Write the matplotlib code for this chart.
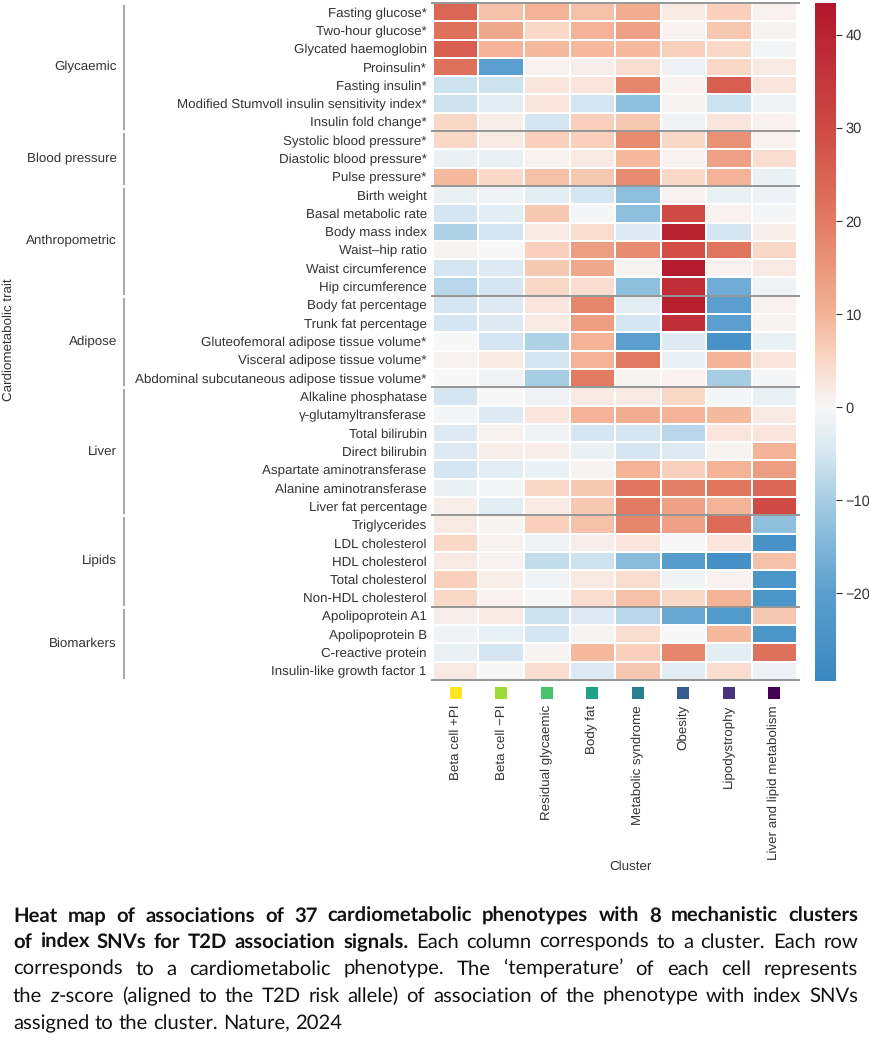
import numpy as np
import matplotlib
matplotlib.use("Agg")
import matplotlib.pyplot as plt
from matplotlib.colors import LinearSegmentedColormap
from matplotlib.transforms import blended_transform_factory

plt.rcParams['font.family'] = ['Liberation Sans', 'DejaVu Sans']
plt.rcParams['text.hinting'] = 'no_hinting'

# Rows (traits) and their groups
traits = [
    "Fasting glucose*", "Two-hour glucose*", "Glycated haemoglobin", "Proinsulin*",
    "Fasting insulin*", "Modified Stumvoll insulin sensitivity index*", "Insulin fold change*",
    "Systolic blood pressure*", "Diastolic blood pressure*", "Pulse pressure*",
    "Birth weight", "Basal metabolic rate", "Body mass index", "Waist\u2013hip ratio",
    "Waist circumference", "Hip circumference",
    "Body fat percentage", "Trunk fat percentage", "Gluteofemoral adipose tissue volume*",
    "Visceral adipose tissue volume*", "Abdominal subcutaneous adipose tissue volume*",
    "Alkaline phosphatase", "\u03b3-glutamyltransferase", "Total bilirubin", "Direct bilirubin",
    "Aspartate aminotransferase", "Alanine aminotransferase", "Liver fat percentage",
    "Triglycerides", "LDL cholesterol", "HDL cholesterol", "Total cholesterol",
    "Non-HDL cholesterol",
    "Apolipoprotein A1", "Apolipoprotein B", "C-reactive protein", "Insulin-like growth factor 1",
]
group_names = ["Glycaemic", "Blood pressure", "Anthropometric", "Adipose", "Liver", "Lipids", "Biomarkers"]
group_sizes = [7, 3, 6, 5, 7, 5, 4]

clusters = ["Beta cell +PI", "Beta cell \u2212PI", "Residual glycaemic", "Body fat",
            "Metabolic syndrome", "Obesity", "Lipodystrophy", "Liver and lipid metabolism"]

# z-scores per cluster (top row to bottom row)
beta_pos = [24, 22, 26, 22, -6, -6, 5, 5, -2, 9, -2, -5, -9, 0.5, -5, -8,
            -5, -5, 0, 1, 0, -5, -0.5, -4, -4, -5, -2, 1.5, 2, 5, 2, 6, 5, 1.5, -1, -2, 2]
beta_neg = [8, 12, 10, -20, -6, -3, 1.5, 2, -2, 5, -1, -3, -5, 0, -4, -5,
            -4, -4, -5, 2, -1, 0, -4, 1, 1.5, -3, -0.5, -3, 0.5, 1, 1, 1.5, 1, 2, -2.5, -5, 0]
residual = [10, 5, 9, 1, 3, 3, -5, 6, 1, 8, -3, 7, 2, 6, 7, 5,
            3, 2, -9, -5, -10, -1, 3, -1, 1.5, -2, 5, 2, 6, -1, -7, -1, 0, -6, -5, 0.5, 4]
body_fat = [8, 10, 9, 1.5, 3, -5, 6, 6, 2, 7, -5, -0.5, 4, 14, 12, 4,
            18, 14, 10, 10, 20, 2, 10, -5, -2, 0.5, 7, 7, 8, 1.5, -6, 2, 4, -4, 0.5, 9, -4]
met_syn = [11, 13, 9, 4, 18, -13, 7, 17, 9, 17, -13, -13, -4, 17, 0.5, -13,
           -3, -5, -20, 20, 0.5, 2, 11, -5, -5, 10, 21, 20, 18, 3, -14, 4, 8, -8, 4, 6, 7]
obesity = [2, 1, 6, -1.5, 1, 0.5, -1, 5, 1, 5, 1, 30, 40, 29, 42, 37,
           41, 37, -4, -2, 1, 5, 10, -8, -4, 6, 19, 13, 13, 0, -21, -1, 5, -18, 0, 18, -3]
lipodys = [6, 7, 5, 5, 26, -6, 3, 16, 13, 10, -2, 1, -5, 21, 1, -17,
           -20, -20, -25, 10, -10, -0.5, 9, 3, 0.5, 10, 21, 10, 23, 3, -26, 1, 10, -22, 9, -3, 4]
liver_lipid = [1, 0.5, -0.5, 2, 3, -1, 1, 1, 4, -2, -1.5, -0.5, 1.5, 5, 2, -1,
               1, 0.5, -2, 3, -0.5, -2, 2, 3, 10, 14, 24, 30, -13, -25, 8, -24, -24, 7, -24, 22, -1.5]

z = np.column_stack([beta_pos, beta_neg, residual, body_fat, met_syn, obesity, lipodys, liver_lipid])

vmin, vmax = -29.4, 43.4
nodes = [(-29.4, '#3a88c2'), (-20, '#5a9fcf'), (-10, '#a6cde4'), (-5, '#d6e7f2'),
         (0, '#f7f7f7'), (5, '#fad7c6'), (10, '#f4b396'), (20, '#e27b62'),
         (30, '#cf4a44'), (43.4, '#b2182b')]
cmap = LinearSegmentedColormap.from_list('zs', [((v - vmin) / (vmax - vmin), c) for v, c in nodes])

W, H = 870, 1050
fig = plt.figure(figsize=(W / 100, H / 100), dpi=100)


def box(x0, y0, x1, y1):
    return [x0 / W, 1 - y1 / H, (x1 - x0) / W, (y1 - y0) / H]


ax = fig.add_axes(box(433, 3, 797, 680))
cax = fig.add_axes(box(815, 3, 836, 681))

txt_color = '#333333'
fs = 9.6

mesh = ax.pcolormesh(np.arange(len(clusters) + 1), np.arange(len(traits) + 1), z,
                     cmap=cmap, vmin=vmin, vmax=vmax, edgecolors='white', linewidth=1.2)
ax.set_xlim(0, len(clusters))
ax.set_ylim(len(traits), 0)
for s in ax.spines.values():
    s.set_visible(False)

ax.set_yticks(np.arange(len(traits)) + 0.5)
ax.set_yticklabels(traits, fontsize=fs, color=txt_color)
ax.set_xticks(np.arange(len(clusters)) + 0.5)
ax.set_xticklabels(clusters, rotation=90, fontsize=fs, color=txt_color)
ax.tick_params(axis='y', length=0, pad=4.5)
ax.tick_params(axis='x', length=0, pad=18)

# group separators
bounds = np.concatenate([[0], np.cumsum(group_sizes)])
ax.hlines(bounds, -0.05, len(clusters) + 0.07, colors='#8c8c8c', linewidth=1.3, clip_on=False, zorder=5)

# cluster colour squares
sq_colors = plt.cm.viridis(np.linspace(1, 0, len(clusters)))
ax.scatter(np.arange(len(clusters)) + 0.5, [-13 / 677] * len(clusters), marker='s', s=75,
           c=sq_colors, transform=blended_transform_factory(ax.transData, ax.transAxes),
           clip_on=False, linewidths=0)

# group bars and labels
tr = blended_transform_factory(fig.transFigure, ax.transData)
for name, s, e in zip(group_names, bounds[:-1], bounds[1:]):
    ax.plot([124 / W, 124 / W], [s + 0.15, e - 0.1], color='#aaaaaa', linewidth=1.5,
            transform=tr, clip_on=False)
    ax.text(117 / W, (s + e) / 2, name, ha='right', va='center', fontsize=fs,
            color=txt_color, transform=tr)

fig.text(9 / W, 1 - 340 / H, 'Cardiometabolic trait', rotation=90, ha='center', va='center',
         fontsize=fs, color=txt_color)
fig.text(630 / W, 1 - 867 / H, 'Cluster', ha='center', va='center', fontsize=fs, color=txt_color)

# colorbar
cb = fig.colorbar(mesh, cax=cax)
cb.outline.set_visible(False)
cb.set_ticks([-20, -10, 0, 10, 20, 30, 40])
cax.tick_params(length=4, width=0.8, color=txt_color, labelsize=10.5, labelcolor=txt_color, pad=3)

# caption (justified)
cap_font = ['Lato', 'DejaVu Sans']
cap_fs = 14.6
B, N, I = ('bold', 'normal'), ('normal', 'normal'), ('normal', 'italic')


def words(text, style):
    return [[(w, style)] for w in text.split()]


lines = [
    words("Heat map of associations of 37 cardiometabolic phenotypes with 8 mechanistic clusters", B),
    words("of index SNVs for T2D association signals.", B)
    + words("Each column corresponds to a cluster. Each row", N),
    words("corresponds to a cardiometabolic phenotype. The \u2018temperature\u2019 of each cell represents", N),
    words("the", N) + [[("z", I), ("-score", N)]]
    + words("(aligned to the T2D risk allele) of association of the phenotype with index SNVs", N),
    words("assigned to the cluster. Nature, 2024", N),
]
baselines = [922, 948, 975, 1002, 1029]
x_left, x_right = 13, 858

renderer = fig.canvas.get_renderer()


def width_of(t):
    return t.get_window_extent(renderer=renderer).width


probe_a = fig.text(0, 0, "a a", fontsize=cap_fs, family=cap_font)
probe_b = fig.text(0, 0, "aa", fontsize=cap_fs, family=cap_font)
space_w = width_of(probe_a) - width_of(probe_b)
probe_a.remove()
probe_b.remove()

for k, (line, yb) in enumerate(zip(lines, baselines)):
    objs = []
    for word in line:
        segs = []
        for seg, (wt, st) in word:
            t = fig.text(0, 1 - yb / H, seg, fontsize=cap_fs, fontweight=wt, fontstyle=st,
                         family=cap_font, ha='left', va='baseline', color='#111111')
            segs.append((t, width_of(t)))
        objs.append(segs)
    word_w = [sum(w for _, w in segs) for segs in objs]
    if k < len(lines) - 1:
        gap = (x_right - x_left - sum(word_w)) / (len(objs) - 1)
    else:
        gap = space_w
    x = x_left
    for segs, ww in zip(objs, word_w):
        xx = x
        for t, w in segs:
            t.set_x(xx / W)
            xx += w
        x += ww + gap

fig.savefig('out.png', dpi=100)
